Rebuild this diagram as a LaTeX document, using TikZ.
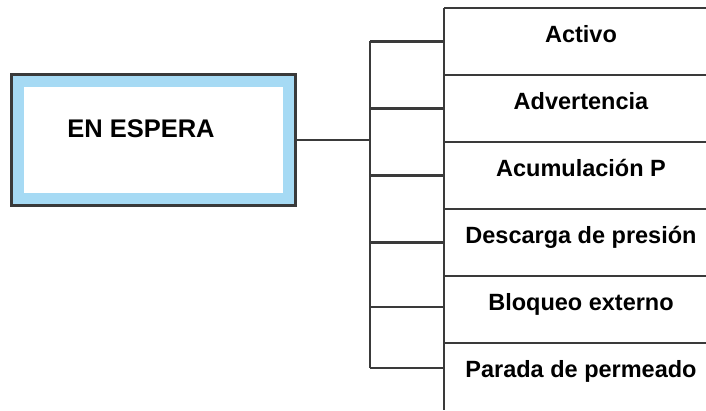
\documentclass[tikz,border=0pt]{standalone}
\usepackage{fontspec}
\setmainfont{Liberation Sans}
\definecolor{linec}{HTML}{3A3A3A}
\definecolor{skyb}{HTML}{A6DAF4}
\tikzset{
  ln/.style={draw=linec, line width=2.2pt},
  mainbox/.style={draw=linec, line width=2.8pt, fill=skyb, minimum width=284pt,
    minimum height=131pt, inner sep=0pt, outer sep=0pt},
  rowcell/.style={minimum width=262pt, minimum height=67pt, inner sep=0pt, outer sep=0pt},
  rowtext/.style={font=\bfseries\fontsize{23.5}{28}\selectfont, anchor=base, inner sep=0pt},
  maintext/.style={font=\bfseries\fontsize{25.5}{30}\selectfont, anchor=base, inner sep=0pt}
}
\begin{document}
\begin{tikzpicture}[x=1pt, y=1pt]
\useasboundingbox (0,0) rectangle (706,410);
\fill[white] (0,0) rectangle (706,410);

% standby state box with light blue frame
\node[mainbox] (sb) at (153.5,270) {};
\fill[white] ([shift={(12.6,-12.6)}]sb.north west) rectangle ([shift={(-12.6,12.6)}]sb.south east);
\node[maintext] (sbt) at (141,272.3) {EN ESPERA};

% list of sub-states
\node[rowcell] (r1) at (575,368.5) {};
\node[rowcell] (r2) at (575,301.5) {};
\node[rowcell] (r3) at (575,234.5) {};
\node[rowcell] (r4) at (575,167.5) {};
\node[rowcell] (r5) at (575,100.5) {};
\node[rowcell] (r6) at (575,33.5) {};

\foreach \r/\t in {r1/Activo, r2/Advertencia, r3/Acumulación P,
                   r4/Descarga de presión, r5/Bloqueo externo, r6/Parada de permeado} {
  \draw[ln] (\r.north west) -- (\r.north east);
  \node[rowtext] (\r t) at ([shift={(6,-34.5)}]\r.north) {\t};
}
\draw[ln] (r1.north west) -- (r6.south west);

% bracket joining the box to the list
\coordinate (hub) at (370,270);
\coordinate (btop) at ([xshift=-74]r1.west);
\coordinate (bbot) at ([shift={(-74,8.5)}]r6.west);
\draw[ln] (sb.east) -- (hub);
\draw[ln] (btop) -- (bbot);
\draw[ln] (btop) -- (r1.west);
\draw[ln] ([xshift=-74]r2.west) -- (r2.west);
\draw[ln] ([xshift=-74]r3.west) -- (r3.west);
\draw[ln] ([xshift=-74]r4.west) -- (r4.west);
\draw[ln] ([shift={(-74,2.5)}]r5.west) -- ([yshift=2.5]r5.west);
\draw[ln] (bbot) -- ([yshift=8.5]r6.west);
\end{tikzpicture}
\end{document}
